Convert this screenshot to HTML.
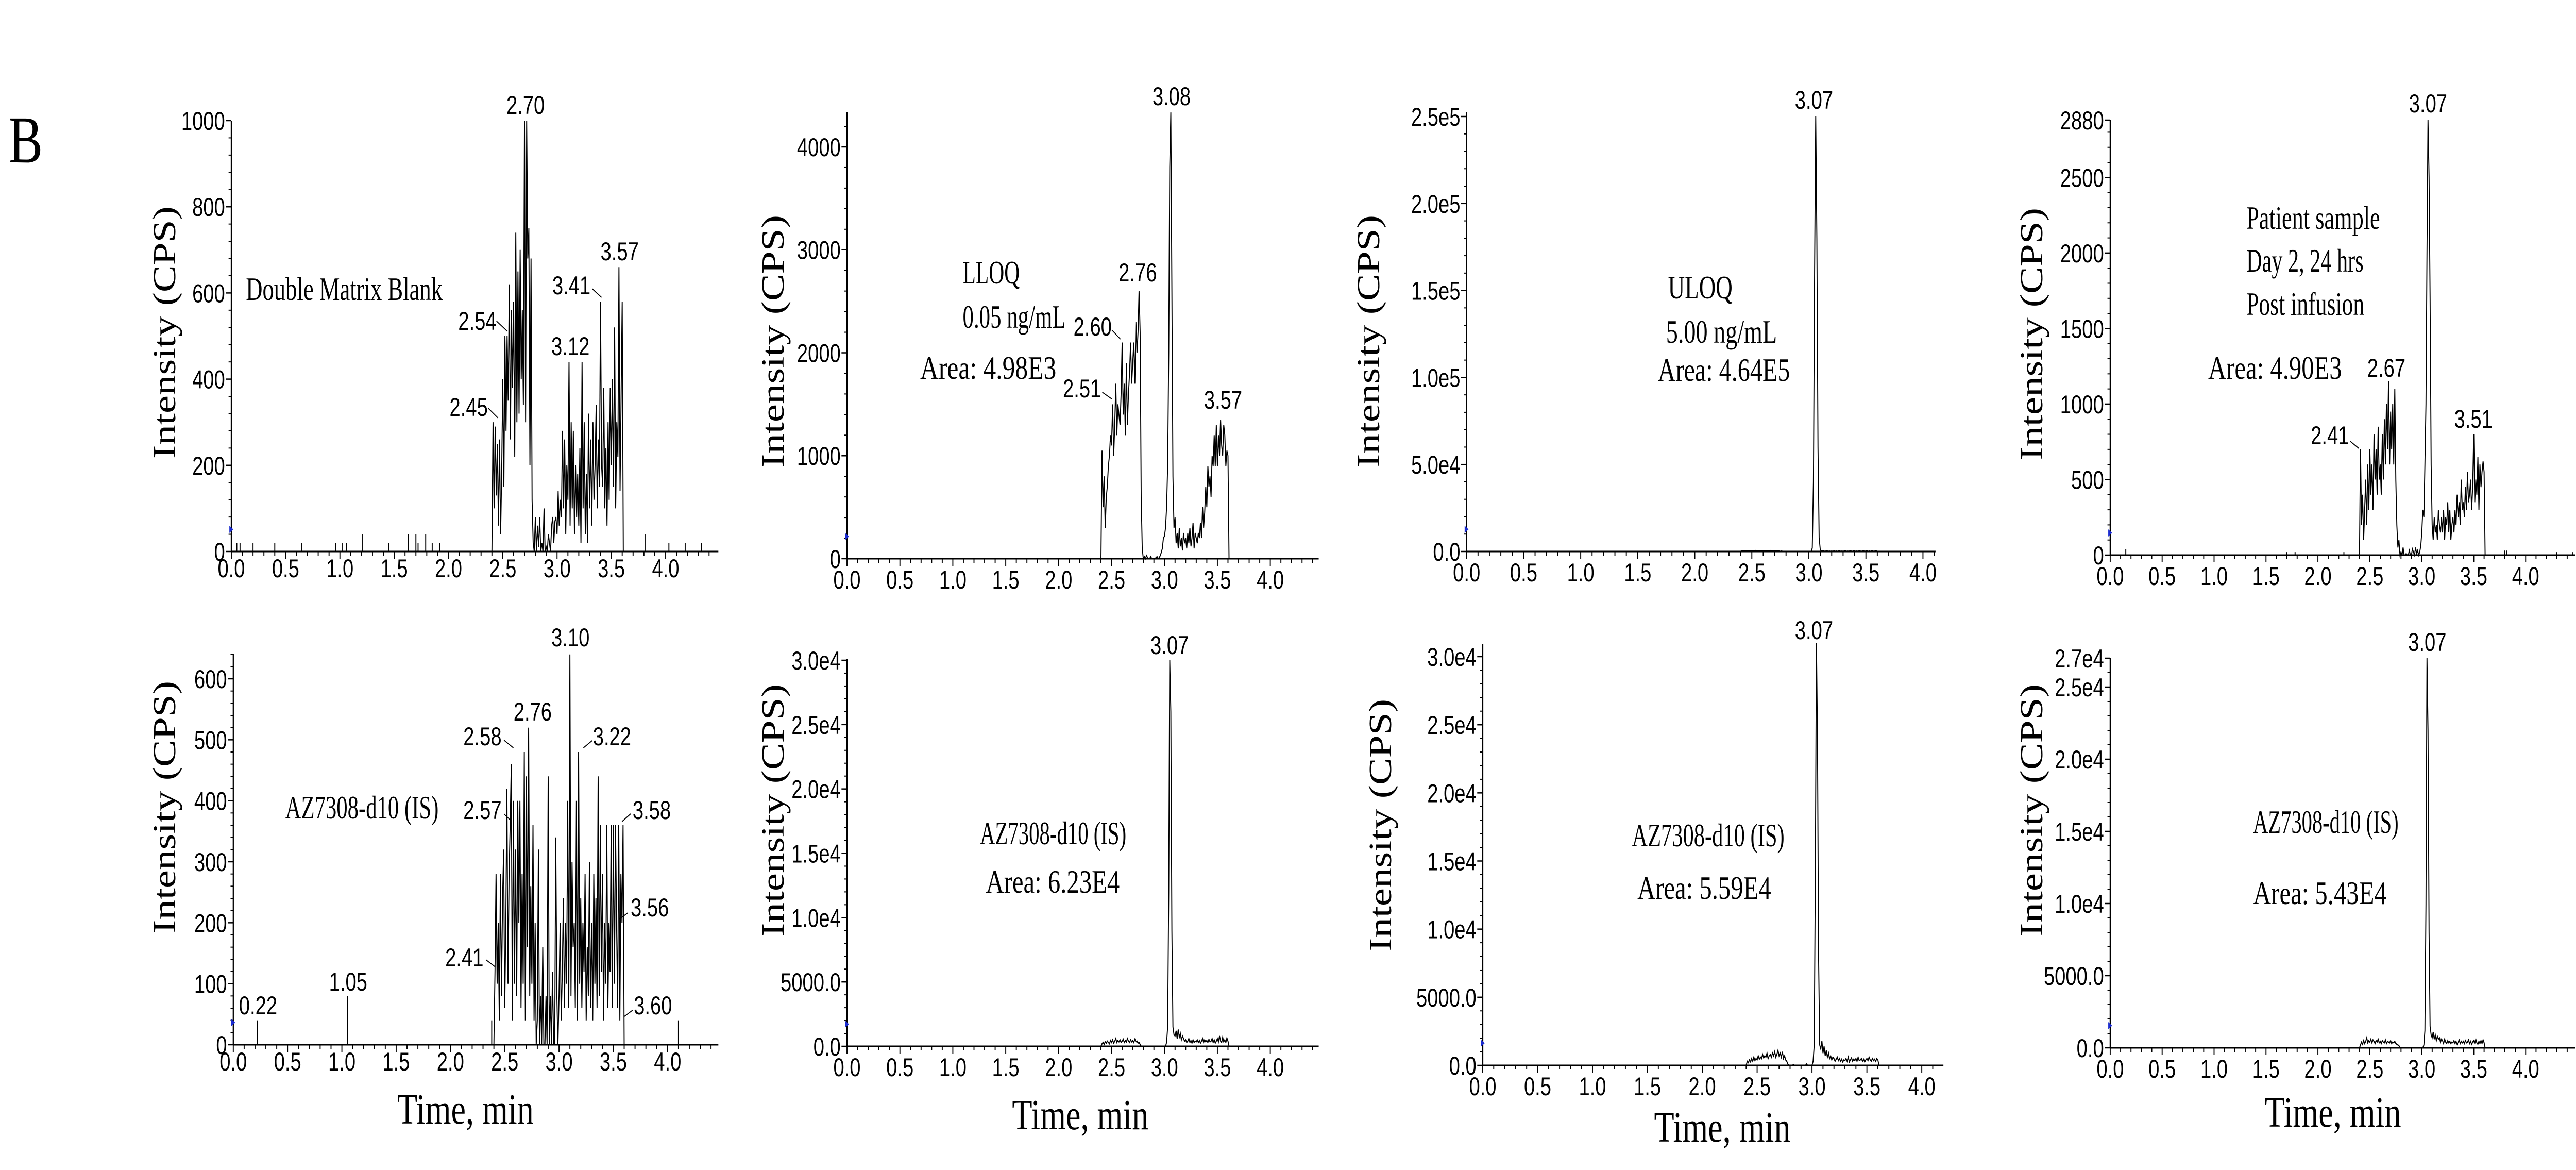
<!DOCTYPE html>
<html><head><meta charset="utf-8">
<style>
html,body{margin:0;padding:0;background:#fff;overflow:hidden;width:100vw;height:100vh;}
svg{display:block;width:100vw;height:100vh;}
.tk{font-family:"Liberation Sans",Arial,sans-serif;font-size:50px;fill:#000;}
.pk{font-family:"Liberation Sans",Arial,sans-serif;font-size:50px;fill:#000;}
.an{font-family:"Liberation Serif","Times New Roman",serif;font-size:64px;fill:#000;}
.yl{font-family:"Liberation Serif","Times New Roman",serif;font-size:82px;fill:#000;}
.xl{font-family:"Liberation Serif","Times New Roman",serif;font-size:84px;fill:#000;}
</style></head>
<body>
<svg id="fig" viewBox="0 0 6548 2270" preserveAspectRatio="none" xmlns="http://www.w3.org/2000/svg">
<rect x="0" y="0" width="6548" height="2270" fill="#fff"/>
<text x="22" y="315" font-family="Liberation Serif, serif" font-size="130">B</text>
<g id="plots"></g>
</svg>
<script>
// ---------- DATA ----------
const denseStep = 0.01;
// P1 double matrix blank
const p1Start = 2.40;
const p1Values = [0,300,100,290,130,250,60,260,40,180, 400,150,500,280,500,350,620,260,560,380, 580,220,740,300,650,320,700,400,560,340, 1000,300,1000,680,750,200,680,120,20,0, 80,0,60,10,80,0,20,0,100,0, 10,0,40,20,0,60,80,20,70,80, 40,140,60,120,80,280,100,260,40,200, 120,440,60,300,100,280,40,200,80,180, 60,240,20,440,100,300,40,180,20,320, 100,260,60,300,120,200,340,100,260,150, 580,200,150,380,100,240,60,300,120,380, 200,400,150,520,100,300,220,660,140,360, 580,0,0];
const p1SpikeTimes = [0.05,0.08,0.20,0.40,0.65,0.96,1.02,1.06,1.21,1.45,1.63,1.70,1.72,1.79,1.85,1.92,3.81,4.03,4.18,4.33];
const p1SpikeValues = [20,20,20,20,20,20,20,20,40,20,40,40,20,40,20,20,40,20,20,20];
const p1YTicks = [0,200,400,600,800,1000];
const p1YLabels = ["0","200","400","600","800","1000"];
// P2 LLOQ
const p2Start = 2.40;
const p2Values = [0,1050,500,800,300,600,700,900,1000,1200, 1100,1500,1000,1300,1700,1200,1500,1400,1300,1600, 2100,1400,1700,1200,1900,1300,1600,1800,2100,1700, 1900,2100,1700,2300,2000,2200,2600,2200,600,100, 0,20,0,30,10,0,0,20,0,0, 0,0,10,20,0,10,30,60,100,200, 220,300,500,900,2000,3800,4335,2600,800,300, 400,150,250,100,300,120,200,80,250,150, 200,100,250,150,300,120,200,350,100,250, 200,150,250,200,350,200,500,300,450,700, 500,900,700,800,600,1000,900,1200,900,1300, 900,1200,1000,1350,1100,1000,1300,1200,900,1050, 1000,0,0];
const p2YTicks = [0,1000,2000,3000,4000];
const p2YLabels = ["0","1000","2000","3000","4000"];
// P3 ULOQ
const p3Start = 2.40;
const p3Values = [0,300,500,200,400,300,500,200,400,300, 500,300,400,600,300,500,200,400,300,500, 300,400,200,500,300,400,600,300,400,200, 300,200,400,300,200,100,200,100,0,0, 0,0,0,0,0,0,0,0,0,0, 0,0,0,0,0,0,0,0,0,0, 0,0,0,2000,40000,160000,250000,180000,60000,8000, 1000,300,200,300,100,200,300,100,200,100, 200,100,300,100,200,100,200,300,100,200, 100,200,300,100,200,100,300,200,100,200, 300,100,200,100,300,200,100,200,300,100, 200,300,100,200,100,300,200,100,200,300, 100,0,0];
const p3YTicks = [0,50000,100000,150000,200000,250000];
const p3YLabels = ["0.0","5.0e4","1.0e5","1.5e5","2.0e5","2.5e5"];
// P4 patient sample
const p4Start = 2.40;
const p4Values = [0,700,200,400,100,300,500,200,600,300, 700,400,600,300,800,500,700,400,850,500, 600,400,800,500,900,600,1000,700,1150,600, 950,700,1000,600,1100,500,200,50,100,0, 20,0,50,0,0,10,0,0,30,0, 0,40,20,0,50,10,30,0,20,60, 150,300,250,600,1000,2000,2880,2500,1700,600, 200,100,250,150,200,100,300,200,150,250, 150,300,100,250,200,350,150,300,100,200, 250,150,300,200,400,250,350,200,500,300, 350,250,450,300,550,350,400,500,300,450, 800,350,500,400,650,300,600,450,550,620, 550,0,0];
const p4SpikeTimes = [0.15,1.70,1.78,2.25,3.80,3.82,4.30,4.45];
const p4SpikeValues = [40,20,20,20,30,30,20,20];
const p4YTicks = [0,500,1000,1500,2000,2500,2880];
const p4YLabels = ["0","500","1000","1500","2000","2500","2880"];
// P5 IS blank
const p5Start = 2.40;
const p5Values = [0,120,280,100,200,40,280,80,240,320, 60,200,420,100,280,360,460,40,400,100, 320,80,400,200,400,60,280,100,480,40, 440,160,520,80,260,100,360,40,200,0, 40,320,0,80,0,160,0,0,80,0, 440,0,80,0,120,0,0,340,80,0, 80,200,40,120,240,60,200,100,400,60, 640,80,300,160,200,60,400,40,480,100, 240,60,200,120,280,40,160,80,300,60, 200,40,280,100,240,60,440,80,360,120, 280,40,200,100,360,60,200,120,360,60, 360,100,360,200,60,360,40,280,200,360, 0];
const p5SpikeTimes = [0.22,1.05,2.38,4.10];
const p5SpikeValues = [40,80,40,40];
const p5YTicks = [0,100,200,300,400,500,600];
const p5YLabels = ["0","100","200","300","400","500","600"];
// P6 IS LLOQ
const p6Start = 2.40;
const p6Values = [0,200,300,150,350,250,400,300,200,450, 300,500,250,400,600,300,450,350,500,300, 400,550,300,450,350,600,400,300,500,350, 450,300,550,350,400,250,300,150,0,0, 0,0,0,0,0,0,0,0,0,0, 0,0,0,0,0,0,0,0,0,0, 0,0,300,1500,12000,30000,26000,9000,1500,900, 800,1200,600,1300,700,1000,500,800,600,400, 500,300,400,600,300,450,250,500,300,400, 350,500,300,450,250,400,600,300,500,350, 450,300,550,350,400,600,300,500,250,400, 600,350,800,400,300,700,350,500,300,650, 400,0,0];
const p6YTicks = [0,5000,10000,15000,20000,25000,30000];
const p6YLabels = ["0.0","5000.0","1.0e4","1.5e4","2.0e4","2.5e4","3.0e4"];
// P7 IS ULOQ
const p7Start = 2.40;
const p7Values = [0,300,200,400,250,500,300,600,350,500, 400,700,450,600,500,800,550,700,600,900, 500,700,800,600,900,700,1000,600,800,1100, 700,900,600,1000,500,700,400,300,100,0, 0,0,0,50,0,0,0,0,0,0, 0,0,0,0,0,100,0,0,0,0, 0,300,1500,14000,31000,24000,8000,1500,1200,1800, 900,1400,700,1100,600,900,500,700,400,600, 500,300,450,600,350,500,300,450,250,400, 350,500,300,600,250,400,550,300,450,350, 500,300,600,350,400,500,300,450,250,400, 500,350,600,400,300,500,350,450,300,500, 400,0,0];
const p7YTicks = [0,5000,10000,15000,20000,25000,30000];
const p7YLabels = ["0.0","5000.0","1.0e4","1.5e4","2.0e4","2.5e4","3.0e4"];
// P8 IS patient
const p8Start = 2.40;
const p8Values = [0,200,400,250,500,300,450,700,350,500, 400,600,350,550,450,300,500,400,600,350, 450,300,500,400,350,550,300,450,400,350, 500,300,400,350,450,300,250,200,150,0, 0,0,0,0,0,0,0,0,0,0, 0,0,0,0,0,0,0,0,0,0, 0,0,200,1200,10000,27000,22000,8000,1500,900, 700,1100,600,900,500,800,600,700,400,600, 500,300,600,400,300,500,350,450,300,400, 350,500,300,450,250,400,550,300,450,350, 450,300,500,350,400,550,300,450,250,400, 500,300,600,350,250,450,300,500,300,550, 350,0,0];
const p8YTicks = [0,5000,10000,15000,20000,25000,27000];
const p8YLabels = ["0.0","5000.0","1.0e4","1.5e4","2.0e4","2.5e4","2.7e4"];
const xTicks = [0,0.5,1,1.5,2,2.5,3,3.5,4];
const xTickLabels = ["0.0","0.5","1.0","1.5","2.0","2.5","3.0","3.5","4.0"];

// ---------- LAYOUT (pixel geometry, not data) ----------
const panels = [
 {id:'p1',ax:588, ppm:276, xEnd:1826, y0:1070, yTopPx:234, yTopVal:1000, axTop:234, start:p1Start, vals:p1Values, st:p1SpikeTimes, sv:p1SpikeValues, yt:p1YTicks, yl:p1YLabels, ylx:417, yly:645, lblDy:50},
 {id:'p2',ax:2153,ppm:269, xEnd:3352, y0:1084, yTopPx:285, yTopVal:4000, axTop:218, start:p2Start, vals:p2Values, st:[], sv:[], yt:p2YTicks, yl:p2YLabels, ylx:1964, yly:662, lblDy:58},
 {id:'p3',ax:3728,ppm:290, xEnd:4920, y0:1070, yTopPx:226, yTopVal:250000, axTop:218, start:p3Start, vals:p3Values, st:[], sv:[], yt:p3YTicks, yl:p3YLabels, ylx:3478, yly:662, lblDy:58},
 {id:'p4',ax:5364,ppm:264, xEnd:6546, y0:1077, yTopPx:233, yTopVal:2880, axTop:233, start:p4Start, vals:p4Values, st:p4SpikeTimes, sv:p4SpikeValues, yt:p4YTicks, yl:p4YLabels, ylx:5163, yly:648, lblDy:58},
 {id:'p5',ax:593, ppm:276, xEnd:1826, y0:2027, yTopPx:1317, yTopVal:600, axTop:1268, start:p5Start, vals:p5Values, st:p5SpikeTimes, sv:p5SpikeValues, yt:p5YTicks, yl:p5YLabels, ylx:417, yly:1566, lblDy:50},
 {id:'p6',ax:2153,ppm:269, xEnd:3352, y0:2030, yTopPx:1281, yTopVal:30000, axTop:1278, start:p6Start, vals:p6Values, st:[], sv:[], yt:p6YTicks, yl:p6YLabels, ylx:1964, yly:1572, lblDy:58},
 {id:'p7',ax:3769,ppm:279, xEnd:4940, y0:2067, yTopPx:1274, yTopVal:30000, axTop:1249, start:p7Start, vals:p7Values, st:[], sv:[], yt:p7YTicks, yl:p7YLabels, ylx:3508, yly:1601, lblDy:58},
 {id:'p8',ax:5364,ppm:264, xEnd:6546, y0:2033, yTopPx:1277, yTopVal:27000, axTop:1277, start:p8Start, vals:p8Values, st:[], sv:[], yt:p8YTicks, yl:p8YLabels, ylx:5163, yly:1572, lblDy:58}
];

const NS='http://www.w3.org/2000/svg';
const root=document.getElementById('plots');
function mk(tag, attrs, parent){const e=document.createElementNS(NS,tag);for(const k in attrs)e.setAttribute(k,attrs[k]);(parent||root).appendChild(e);return e;}

panels.forEach(p=>{
  const g=mk('g',{});
  
  
  const X=t=>p.ax+t*p.ppm;
  const Y=v=>p.y0-(v/p.yTopVal)*(p.y0-p.yTopPx);
  const ya=mk('line',{x1:p.ax,y1:p.axTop,x2:p.ax,y2:p.y0,stroke:'#000','stroke-width':3},g);
  
  
  const xa=mk('line',{x1:p.ax,y1:p.y0,x2:p.xEnd,y2:p.y0,stroke:'#000','stroke-width':3},g);
  
  
  const tMax=(p.xEnd-p.ax)/p.ppm;
  for(let i=0;i*0.1<=tMax+1e-9;i++){
    const t=i*0.1, major=(i%5===0);
    mk('line',{x1:X(t),y1:p.y0,x2:X(t),y2:p.y0+(major?14:8),stroke:'#000','stroke-width':2.5},g);
  }
  xTicks.forEach((t,i)=>{
    const tx=mk('text',{x:X(t),y:p.y0+p.lblDy,'text-anchor':'middle',class:'tk'},g);
    tx.textContent=xTickLabels[i];
    
    
  });
  const step=(p.yt[1]-p.yt[0])/5;
  for(let v=0; Y(v)>=p.axTop-1; v+=step){
    mk('line',{x1:p.ax-7,y1:Y(v),x2:p.ax,y2:Y(v),stroke:'#000','stroke-width':2},g);
  }
  p.yt.forEach((v,i)=>{
    mk('line',{x1:p.ax-14,y1:Y(v),x2:p.ax,y2:Y(v),stroke:'#000','stroke-width':2.5},g);
    const tx=mk('text',{x:p.ax-16,y:Y(v)+18,'text-anchor':'end',class:'tk'},g);
    tx.textContent=p.yl[i];
    
    
  });
  const yt=mk('text',{x:p.ylx,y:p.yly,'text-anchor':'middle',class:'yl',transform:`rotate(-90 ${p.ylx} ${p.yly})`,textLength:490,lengthAdjust:'spacingAndGlyphs',dy:28},g);
  yt.textContent='Intensity (CPS)';
  
  
  const mkT=mk('polygon',{points:`${p.ax-5},${p.y0-50} ${p.ax+5},${p.y0-43} ${p.ax-5},${p.y0-36}`,fill:'#1a2bd0'},g);
  
  
  let pts=[[X(0),Y(0)]];
  p.vals.forEach((v,i)=>{pts.push([X(p.start+i*denseStep),Y(v)]);});
  pts.push([X(tMax-0.02),Y(0)]);
  const tr=mk('polyline',{points:pts.map(a=>a[0].toFixed(1)+','+a[1].toFixed(1)).join(' '),fill:'none',stroke:'#000','stroke-width':2.5,'stroke-linejoin':'miter'},g);
  
  
  p.st.forEach((t,i)=>{
    const s=mk('line',{x1:X(t),y1:Y(0),x2:X(t),y2:Y(p.sv[i]),stroke:'#000','stroke-width':2.5},g);
    
    
  });
});

const texts=[
 ['2.70',1336,221,'middle','pk'],['2.54',1262,640,'end','pk'],['2.45',1240,807,'end','pk'],['3.12',1450,689,'middle','pk'],['3.41',1501,571,'end','pk'],['3.57',1575,505,'middle','pk'],
 ['Double Matrix Blank',625,582,'start','an',500],
 ['3.10',1450,1254,'middle','pk'],['2.76',1354,1398,'middle','pk'],['2.58',1275,1446,'end','pk'],['3.22',1507,1446,'start','pk'],['2.57',1275,1589,'end','pk'],['3.58',1608,1589,'start','pk'],['3.56',1603,1778,'start','pk'],['2.41',1229,1875,'end','pk'],['3.60',1611,1968,'start','pk'],['1.05',885,1922,'middle','pk'],['0.22',656,1968,'middle','pk'],
 ['AZ7308-d10 (IS)',725,1588,'start','an',390],
 ['3.08',2978,204,'middle','pk'],['2.76',2892,546,'middle','pk'],['2.60',2826,651,'end','pk'],['2.51',2799,771,'end','pk'],['3.57',3109,793,'middle','pk'],
 ['LLOQ',2447,550,'start','an',145],['0.05 ng/mL',2447,636,'start','an',262],['Area: 4.98E3',2339,735,'start','an',346],
 ['3.07',2973,1269,'middle','pk'],['AZ7308-d10 (IS)',2677,1638,'middle','an',372],['Area: 6.23E4',2676,1732,'middle','an',340],
 ['3.07',4611,211,'middle','pk'],['ULOQ',4240,579,'start','an',164],['5.00 ng/mL',4235,665,'start','an',282],['Area: 4.64E5',4214,739,'start','an',336],
 ['3.07',4611,1240,'middle','pk'],['AZ7308-d10 (IS)',4342,1642,'middle','an',388],['Area: 5.59E4',4332,1744,'middle','an',340],
 ['3.07',6172,218,'middle','pk'],['Patient sample',5710,444,'start','an',340],['Day 2, 24 hrs',5710,527,'start','an',298],['Post infusion',5710,611,'start','an',300],['Area: 4.90E3',5613,735,'start','an',340],['2.67',6066,731,'middle','pk'],['2.41',5971,862,'end','pk'],['3.51',6287,830,'middle','pk'],
 ['3.07',6170,1263,'middle','pk'],['AZ7308-d10 (IS)',5727,1616,'start','an',370],['Area: 5.43E4',5727,1754,'start','an',340],
 ['Time, min',1183,2180,'middle','xl'],['Time, min',2746,2191,'middle','xl'],['Time, min',4378,2215,'middle','xl'],['Time, min',5930,2186,'middle','xl']
];
texts.forEach(a=>{
  const at={x:a[1],y:a[2],'text-anchor':a[3],class:a[4]};
  if(a[5]){at.textLength=a[5];at.lengthAdjust='spacingAndGlyphs';}
  const t=mk('text',at);
  t.textContent=a[0];
  
  
});
const leaders=[[1262,623,1290,643],[1241,792,1266,811],[1505,560,1529,577],[1281,1436,1305,1451],[1483,1451,1505,1437],[1281,1579,1301,1594],[1581,1594,1603,1579],[1575,1783,1596,1771],[1235,1862,1259,1876],[1587,1972,1608,1960],[2826,640,2848,658],[2802,761,2826,774],[5974,856,5996,870]];
leaders.forEach(l=>{
  const e=mk('line',{x1:l[0],y1:l[1],x2:l[2],y2:l[3],stroke:'#000','stroke-width':2});
  
  
});
</script>
</body></html>
